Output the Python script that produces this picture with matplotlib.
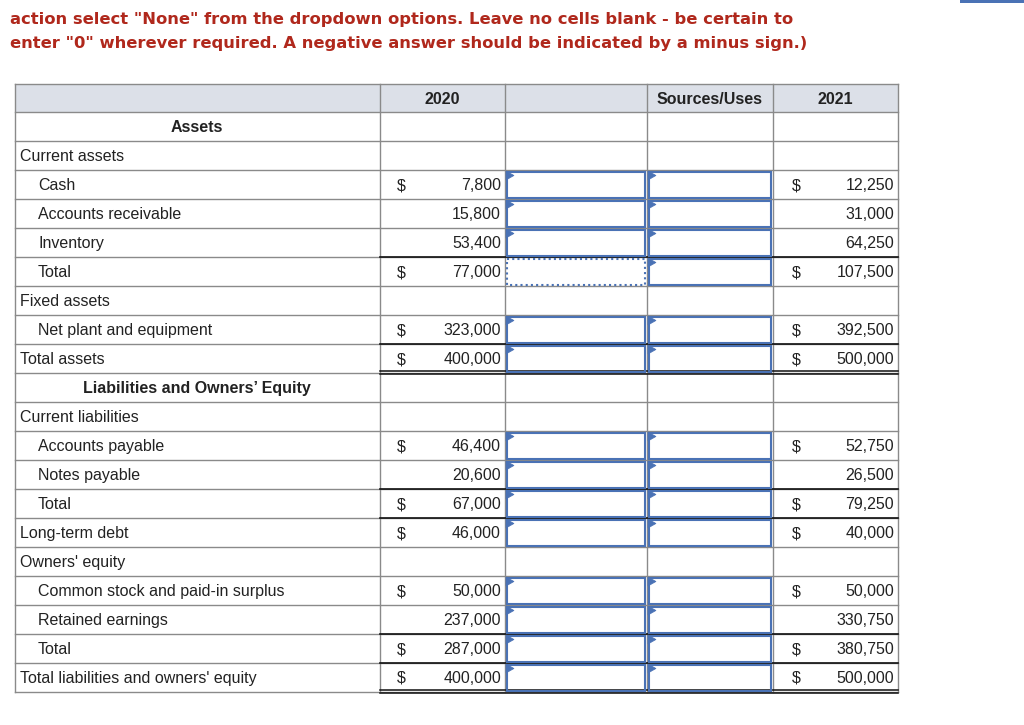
import matplotlib.pyplot as plt
from matplotlib.patches import Rectangle, Polygon

# 说明文字（红色）
note_lines = [
    'action select "None" from the dropdown options. Leave no cells blank - be certain to',
    'enter "0" wherever required. A negative answer should be indicated by a minus sign.)',
]

# 表头
col_heads = ["", "2020", "", "Sources/Uses", "2021"]

# 行数据
labels = ["Assets", "Current assets", "Cash", "Accounts receivable", "Inventory", "Total",
          "Fixed assets", "Net plant and equipment", "Total assets",
          "Liabilities and Owners\u2019 Equity", "Current liabilities", "Accounts payable",
          "Notes payable", "Total", "Long-term debt", "Owners' equity",
          "Common stock and paid-in surplus", "Retained earnings", "Total",
          "Total liabilities and owners' equity"]
indent = [0, 0, 1, 1, 1, 1, 0, 1, 0, 0, 0, 1, 1, 1, 0, 0, 1, 1, 1, 0]
section = [1, 0, 0, 0, 0, 0, 0, 0, 0, 1, 0, 0, 0, 0, 0, 0, 0, 0, 0, 0]
v2020 = [None, None, 7800, 15800, 53400, 77000, None, 323000, 400000, None, None,
         46400, 20600, 67000, 46000, None, 50000, 237000, 287000, 400000]
v2021 = [None, None, 12250, 31000, 64250, 107500, None, 392500, 500000, None, None,
         52750, 26500, 79250, 40000, None, 50000, 330750, 380750, 500000]
dollar = [0, 0, 1, 0, 0, 1, 0, 1, 1, 0, 0, 1, 0, 1, 1, 0, 1, 0, 1, 1]
total_rows = [5, 8, 13, 14, 18, 19]
grand_rows = [8, 19]
dotted_row = 5

# 版面（像素）
W, H = 1024, 725
col_x = [15, 380, 505, 647, 773, 898]
top, head_h, row_h = 84, 28, 29
grid = "#8a8a8a"
blue = "#4a72b5"
txt = "#222222"
fs = 11.5

fig = plt.figure(figsize=(W / 100, H / 100), dpi=100)
ax = fig.add_axes([0, 0, 1, 1])
ax.set_xlim(0, W)
ax.set_ylim(H, 0)
ax.axis("off")

# 右上角蓝条
ax.add_patch(Rectangle((960, 0), 64, 3, color=blue, lw=0))

for i, line in enumerate(note_lines):
    ax.text(10, 24 + i * 24, line, color="#b0281c", fontsize=11.75, fontweight="bold",
            family="DejaVu Sans", va="baseline", ha="left")

# 表头
ax.add_patch(Rectangle((col_x[0], top), col_x[-1] - col_x[0], head_h,
                       facecolor="#dce0e8", edgecolor="none"))
for j, h in enumerate(col_heads):
    if h:
        ax.text((col_x[j] + col_x[j + 1]) / 2, top + head_h / 2 + 5.5, h, fontsize=fs,
                fontweight="bold", family="Liberation Sans", color=txt,
                ha="center", va="baseline")

n = len(labels)
y0 = top + head_h
bottom = y0 + n * row_h

# 网格线
ax.plot([col_x[0], col_x[-1]], [top, top], color=grid, lw=1)
for k in range(n + 1):
    y = y0 + k * row_h
    ax.plot([col_x[0], col_x[-1]], [y, y], color=grid, lw=1)
for x in col_x:
    ax.plot([x, x], [top, bottom], color=grid, lw=1)

# 合计行上边框加深
for r in total_rows:
    y = y0 + r * row_h
    ax.plot([col_x[1], col_x[-1]], [y, y], color="#111111", lw=1.2, zorder=3)
for r in grand_rows:
    y = y0 + (r + 1) * row_h
    ax.plot([col_x[1], col_x[-1]], [y - 2, y - 2], color="#111111", lw=1.1, zorder=3)
    ax.plot([col_x[1], col_x[-1]], [y + 0.5, y + 0.5], color="#111111", lw=1.1, zorder=3)

for i in range(n):
    yc = y0 + i * row_h + row_h / 2
    yb = yc + 5.5
    if section[i]:
        ax.text(197, yb, labels[i], fontsize=fs, fontweight="bold",
                family="Liberation Sans", color=txt, ha="center", va="baseline")
    else:
        ax.text(38 if indent[i] else 20, yb, labels[i], fontsize=fs,
                family="Liberation Sans", color=txt, ha="left", va="baseline")
    if v2020[i] is None:
        continue
    if dollar[i]:
        ax.text(401, yb, "$", fontsize=fs, family="Liberation Sans", color=txt,
                ha="center", va="baseline")
        ax.text(796, yb, "$", fontsize=fs, family="Liberation Sans", color=txt,
                ha="center", va="baseline")
    ax.text(501, yb, f"{v2020[i]:,}", fontsize=fs, family="Liberation Sans",
            color=txt, ha="right", va="baseline")
    ax.text(894, yb, f"{v2021[i]:,}", fontsize=fs, family="Liberation Sans",
            color=txt, ha="right", va="baseline")

    # 输入框
    yt = y0 + i * row_h
    for j in (2, 3):
        x1, x2 = col_x[j] + 2, col_x[j + 1] - 2
        dotted = (i == dotted_row and j == 2)
        ax.add_patch(Rectangle((x1, yt + 1.5), x2 - x1, row_h - 3, fill=False,
                               edgecolor=blue, lw=1.5,
                               linestyle=(0, (1, 1.5)) if dotted else "-", zorder=4))
        if not dotted:
            ax.add_patch(Polygon([(x1 - 1, yt + 1), (x1 + 7, yt + 5.5), (x1 - 1, yt + 10)],
                                 closed=True, facecolor=blue, edgecolor=blue, lw=0.5,
                                 zorder=5))

fig.savefig("out.png", dpi=100, facecolor="white")
